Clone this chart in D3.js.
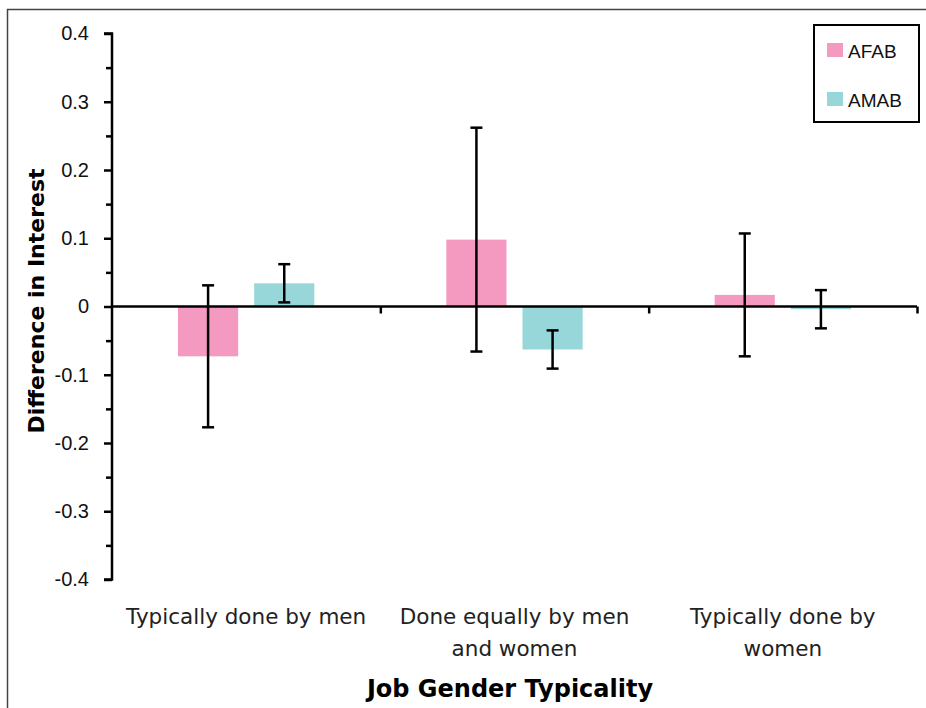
<!DOCTYPE html>
<html><head><meta charset="utf-8">
<script src="https://cdn.jsdelivr.net/npm/d3@7"></script>
<style>body{margin:0;background:#fff}svg{display:block}</style>
</head><body>
<script>
const categories = [["Typically done by men"], ["Done equally by men", "and women"], ["Typically done by", "women"]];
const seriesNames = ["AFAB", "AMAB"];
const afabValues = [-0.073, 0.098, 0.017];
const afabErrors = [0.104, 0.164, 0.090];
const amabValues = [0.034, -0.063, -0.004];
const amabErrors = [0.028, 0.028, 0.028];
const yTicks = [-0.4, -0.3, -0.2, -0.1, 0, 0.1, 0.2, 0.3, 0.4];
const yMinorTicks = [-0.35, -0.25, -0.15, -0.05, 0.05, 0.15, 0.25, 0.35];
const colors = ["#F49AC1", "#98D7D9"];

const W = 926, H = 708;
const svg = d3.select("body").append("svg").attr("width", W).attr("height", H);

// outer frame (top and left)
svg.append("path").attr("d", "M7.5,708 V9.5 H926").attr("fill", "none").attr("stroke", "#444").attr("stroke-width", 1.5);

const x0 = 112, x1 = 917;
const y = d3.scaleLinear().domain([-0.4, 0.4]).range([579.5, 33.5]);
const x = d3.scaleBand().domain(d3.range(categories.length)).range([x0, x1]).paddingInner(0).paddingOuter(0);
const xs = d3.scaleBand().domain(seriesNames).range([66, x.bandwidth() - 66]).paddingInner(0.21);

const data = categories.map((c, i) => [
  {s: "AFAB", v: afabValues[i], e: afabErrors[i], c: colors[0]},
  {s: "AMAB", v: amabValues[i], e: amabErrors[i], c: colors[1]}
]);

// bars
const g = svg.append("g");
data.forEach((grp, i) => {
  grp.forEach(d => {
    const bx = x(i) + xs(d.s);
    g.append("rect").attr("x", bx).attr("width", xs.bandwidth())
      .attr("y", y(Math.max(0, d.v))).attr("height", Math.abs(y(d.v) - y(0)))
      .attr("fill", d.c);
  });
});

// y axis
const yAxis = d3.axisLeft(y).tickValues(yTicks).tickSize(8).tickFormat(d => d === 0 ? "0" : d3.format(".1f")(d).replace("−", "-"));
const ya = svg.append("g").attr("transform", `translate(${x0},0)`).call(yAxis);
ya.select(".domain").attr("stroke", "#000").attr("stroke-width", 2.5).attr("d", `M-8,${y(0.4)}H0V${y(-0.4)}H-8`);
ya.selectAll(".tick line").attr("stroke", "#000").attr("stroke-width", 2.5);
ya.selectAll(".tick text").attr("x", -23).attr("font-family", "Liberation Sans, Arial, sans-serif").attr("font-size", 20).attr("fill", "#111");
const yMinor = d3.axisLeft(y).tickValues(yMinorTicks).tickSize(6).tickFormat("");
const ym = svg.append("g").attr("transform", `translate(${x0},0)`).call(yMinor);
ym.select(".domain").remove();
ym.selectAll(".tick line").attr("stroke", "#000").attr("stroke-width", 2.5);

// x axis at zero
const xAxis = d3.axisBottom(d3.scaleLinear().domain([0, 3]).range([x0, x1])).tickValues([1, 2, 3]).tickSize(7).tickFormat("");
const xa = svg.append("g").attr("transform", `translate(0,${y(0)})`).call(xAxis);
xa.select(".domain").attr("stroke", "#000").attr("stroke-width", 2.5).attr("d", `M${x0},0H${x1}`);
xa.selectAll(".tick line").attr("stroke", "#000").attr("stroke-width", 2.5);

// error bars
data.forEach((grp, i) => {
  grp.forEach(d => {
    const cx = x(i) + xs(d.s) + xs.bandwidth() / 2;
    const top = y(d.v + d.e), bot = y(d.v - d.e);
    const eg = svg.append("g").attr("stroke", "#000").attr("stroke-width", 2.5);
    eg.append("line").attr("x1", cx).attr("x2", cx).attr("y1", top).attr("y2", bot);
    eg.append("line").attr("x1", cx - 6).attr("x2", cx + 6).attr("y1", top).attr("y2", top);
    eg.append("line").attr("x1", cx - 6).attr("x2", cx + 6).attr("y1", bot).attr("y2", bot);
  });
});

// category labels
const catFont = "'DejaVu Sans', sans-serif";
categories.forEach((lines, i) => {
  const t = svg.append("text").attr("text-anchor", "middle").attr("font-family", catFont)
    .attr("font-size", 21.5).attr("fill", "#222");
  lines.forEach((ln, j) => {
    t.append("tspan").attr("x", x(i) + x.bandwidth() / 2).attr("y", 624 + j * 32).text(ln);
  });
});

// axis titles
svg.append("text").attr("x", 510).attr("y", 697).attr("text-anchor", "middle")
  .attr("font-family", "'DejaVu Sans', sans-serif").attr("font-weight", 700).attr("font-size", 24).attr("fill", "#000")
  .text("Job Gender Typicality");
svg.append("text").attr("transform", "translate(44,301) rotate(-90)").attr("text-anchor", "middle")
  .attr("font-family", "'DejaVu Sans', sans-serif").attr("font-weight", 700).attr("font-size", 22).attr("fill", "#000")
  .text("Difference in Interest");

// legend
const lg = svg.append("g");
lg.append("rect").attr("x", 814).attr("y", 25).attr("width", 105).attr("height", 97)
  .attr("fill", "#fff").attr("stroke", "#000").attr("stroke-width", 2);
seriesNames.forEach((s, i) => {
  lg.append("rect").attr("x", 827).attr("y", 43 + i * 49).attr("width", 16).attr("height", 14).attr("fill", colors[i]);
  lg.append("text").attr("x", 848).attr("y", 57.5 + i * 49).attr("font-family", "Liberation Sans, Arial, sans-serif")
    .attr("font-size", 19).attr("fill", "#111").text(s);
});
</script>
</body></html>
